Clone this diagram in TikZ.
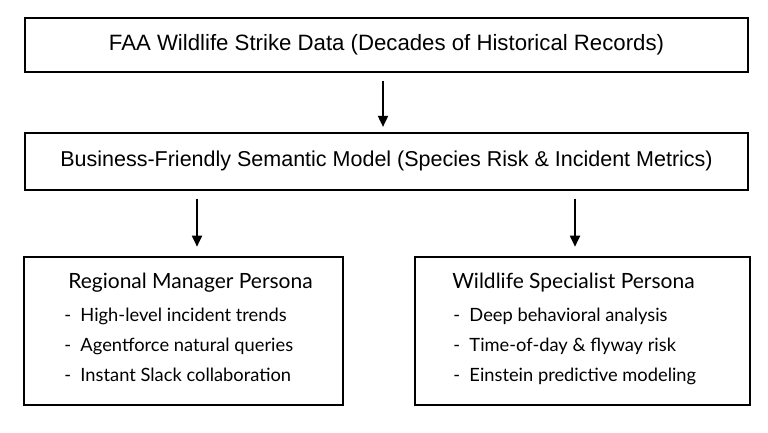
\documentclass[tikz,border=0pt]{standalone}
\usepackage{fontspec}
\setmainfont{Liberation Sans}
\newfontfamily\personafont{Lato}
\usepackage{tikz}
\usetikzlibrary{arrows.meta, positioning, calc}

\begin{document}
\begin{tikzpicture}[
    x=1pt, y=1pt,
    stage/.style={rectangle, draw=black, line width=1.8pt, minimum width=723pt, minimum height=#1, align=center, font=\fontsize{22.2}{24}\selectfont, inner sep=0pt},
    stage/.default={55pt},
    persona/.style={rectangle, draw=black, line width=1.8pt, minimum width=#1, minimum height=148pt, inner sep=0pt},
    persona/.default={320pt},
    ptitle/.style={anchor=west, inner sep=0pt, font=\personafont\fontsize{21}{24}\selectfont},
    plist/.style={anchor=north west, inner sep=0pt, align=left, font=\personafont\fontsize{18.3}{30}\selectfont},
    arrow/.style={-{Triangle[length=11pt, width=10pt]}, line width=1.8pt, color=black},
]

\useasboundingbox (0,0) rectangle (768,432);

% ── Data and semantic layer ──
\node[stage=54pt] (data) at (386.5,387) {FAA Wildlife Strike Data (Decades of Historical Records)};
\node[stage=57pt, below=59pt of data, font=\fontsize{21.5}{24}\selectfont] (model) {Business-Friendly Semantic Model (Species Risk \& Incident Metrics)};

% ── Persona boxes ──
\node[persona=319pt, below=65pt of model.south west, anchor=north west, xshift=-1pt] (manager) {};
\node[persona=335pt, below=65pt of model.south east, anchor=north east, xshift=2pt] (specialist) {};

% ── Persona texts ──
\node[ptitle] (managertitle) at ([xshift=45pt, yshift=-27pt]manager.north west) {Regional Manager Persona};
\node[plist] (managerlist) at ([xshift=41pt, yshift=-52pt]manager.north west)
    {-\ \ High-level incident trends\\
     -\ \ Agentforce natural queries\\
     -\ \ Instant Slack collaboration};
\node[ptitle] (specialisttitle) at ([xshift=38pt, yshift=-27pt]specialist.north west) {Wildlife Specialist Persona};
\node[plist] (specialistlist) at ([xshift=39pt, yshift=-52pt]specialist.north west)
    {-\ \ Deep behavioral analysis\\
     -\ \ Time-of-day \& flyway risk\\
     -\ \ Einstein predictive modeling};

% ── Arrows ──
\draw[arrow, shorten <=8pt, shorten >=5pt] ([xshift=-3.5pt]data.south) -- ([xshift=-3.5pt]model.north);
\draw[arrow, shorten <=8pt, shorten >=9pt] ([xshift=13.5pt]manager.north |- model.south) -- ([xshift=13.5pt]manager.north);
\draw[arrow, shorten <=8pt, shorten >=9pt] ([xshift=-7.5pt]specialist.north |- model.south) -- ([xshift=-7.5pt]specialist.north);

\end{tikzpicture}
\end{document}
